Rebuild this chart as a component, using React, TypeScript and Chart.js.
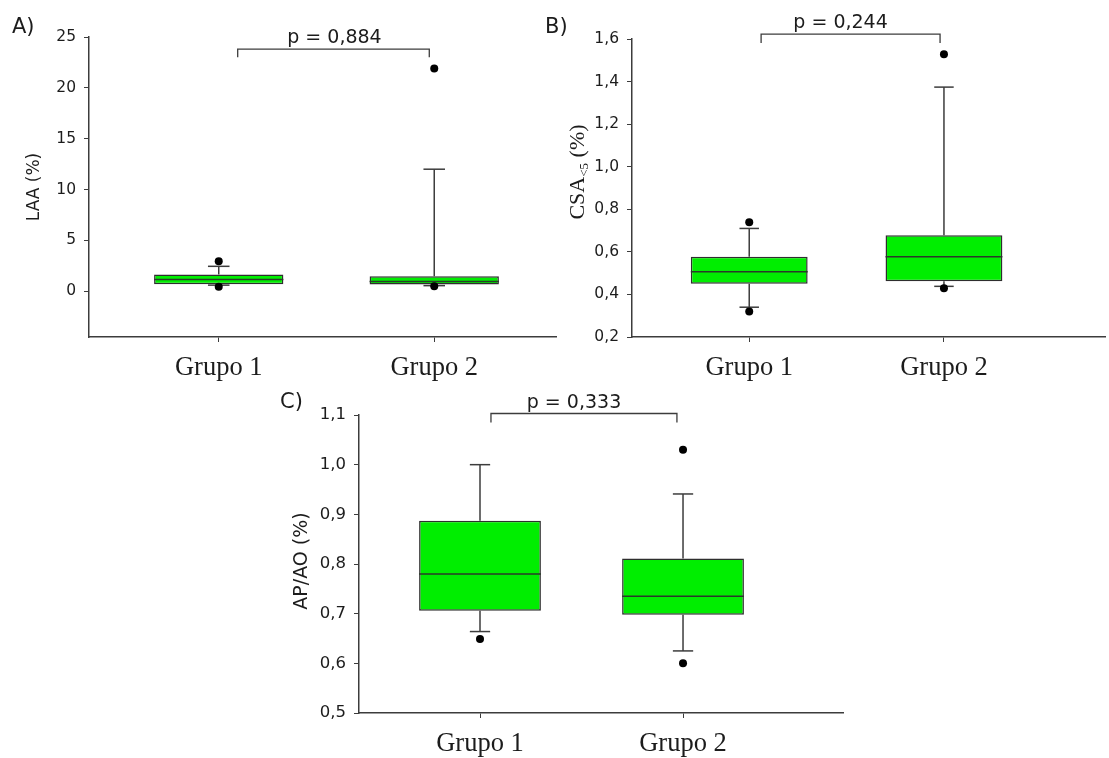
import React, { useEffect, useRef } from 'react';
import { Chart, registerables } from 'chart.js';
Chart.register(...registerables);

const groups = ['Grupo 1', 'Grupo 2'];

// Panel A – LAA (%)
const laaQ1 = [0.69, 0.66];
const laaMedian = [1.15, 0.95];
const laaQ3 = [1.65, 1.48];
const laaWhiskerLow = [0.6, 0.55];
const laaWhiskerHigh = [2.45, 12];
const laaOutliersG1 = [2.95, 0.45];
const laaOutliersG2 = [21.9, 0.5];
const laaTicks = [0, 5, 10, 15, 20, 25];
const laaP = 'p = 0,884';

// Panel B – CSA<5 (%)
const csaQ1 = [0.45, 0.462];
const csaMedian = [0.507, 0.577];
const csaQ3 = [0.577, 0.678];
const csaWhiskerLow = [0.34, 0.438];
const csaWhiskerHigh = [0.71, 1.374];
const csaOutliersG1 = [0.739, 0.32];
const csaOutliersG2 = [1.528, 0.429];
const csaTicks = [0.2, 0.4, 0.6, 0.8, 1.0, 1.2, 1.4, 1.6];
const csaP = 'p = 0,244';

// Panel C – AP/AO (%)
const apQ1 = [0.706, 0.698];
const apMedian = [0.78, 0.735];
const apQ3 = [0.887, 0.811];
const apWhiskerLow = [0.664, 0.625];
const apWhiskerHigh = [1.0, 0.941];
const apOutliersG1 = [0.649];
const apOutliersG2 = [1.03, 0.6];
const apTicks = [0.5, 0.6, 0.7, 0.8, 0.9, 1.0, 1.1];
const apP = 'p = 0,333';

const SANS = '"DejaVu Sans", sans-serif';
const SERIF = '"Liberation Serif", "DejaVu Serif", serif';
const TEXT = '#1c1c1c';
const LINE = '#3c3c3c';
const GREEN = '#00ee00';

type Panel = {
  left: number; top: number; w: number; h: number;
  padTop: number; padRight: number; yWidth: number; xHeight: number;
  xMin: number; xMax: number; yMin: number; yMax: number;
  yTicks: number[]; decimals: number; tickFont: number;
  q1: number[]; med: number[]; q3: number[]; lo: number[]; hi: number[];
  out1: number[]; out2: number[];
  bracket: { x1: number; x2: number; yTop: number; yTick: number; textX: number; text: string };
  label: { text: string; x: number; y: number };
  title: (ctx: CanvasRenderingContext2D) => void;
};

function drawRotated(ctx: CanvasRenderingContext2D, x: number, y: number, parts: { t: string; font: string; dy: number }[]) {
  ctx.save();
  ctx.translate(x, y);
  ctx.rotate(-Math.PI / 2);
  ctx.fillStyle = TEXT;
  ctx.textBaseline = 'alphabetic';
  ctx.textAlign = 'left';
  let total = 0;
  const widths = parts.map(p => { ctx.font = p.font; const w = ctx.measureText(p.t).width; total += w; return w; });
  let cx = -total / 2;
  parts.forEach((p, i) => { ctx.font = p.font; ctx.fillText(p.t, cx, p.dy); cx += widths[i]; });
  ctx.restore();
}

const panels: Panel[] = [
  {
    left: 0, top: 0, w: 560, h: 390, padTop: 37, padRight: 3, yWidth: 89, xHeight: 53,
    xMin: 0.398, xMax: 2.565, yMin: -4.5, yMax: 25, yTicks: laaTicks, decimals: 0, tickFont: 15.5,
    q1: laaQ1, med: laaMedian, q3: laaQ3, lo: laaWhiskerLow, hi: laaWhiskerHigh,
    out1: laaOutliersG1, out2: laaOutliersG2,
    bracket: { x1: 1.088, x2: 1.977, yTop: 23.8, yTick: 23.0, textX: 1.537, text: laaP },
    label: { text: 'A)', x: 12, y: 33 },
    title: ctx => drawRotated(ctx, 39, 187, [{ t: 'LAA (%)', font: `17px ${SANS}`, dy: 0 }]),
  },
  {
    left: 530, top: 0, w: 579, h: 390, padTop: 39, padRight: 1, yWidth: 102, xHeight: 53,
    xMin: 0.398, xMax: 2.827, yMin: 0.2, yMax: 1.6, yTicks: csaTicks, decimals: 1, tickFont: 15.5,
    q1: csaQ1, med: csaMedian, q3: csaQ3, lo: csaWhiskerLow, hi: csaWhiskerHigh,
    out1: csaOutliersG1, out2: csaOutliersG2,
    bracket: { x1: 1.061, x2: 1.98, yTop: 1.623, yTick: 1.581, textX: 1.469, text: csaP },
    label: { text: 'B)', x: 15, y: 33 },
    title: ctx => drawRotated(ctx, 54, 172, [
      { t: 'CSA', font: `22px ${SERIF}`, dy: 0 },
      { t: '<5', font: `13px ${SERIF}`, dy: 4 },
      { t: ' (%)', font: `22px ${SERIF}`, dy: 0 },
    ]),
  },
  {
    left: 270, top: 380, w: 580, h: 378, padTop: 35, padRight: 7, yWidth: 89, xHeight: 45,
    xMin: 0.404, xMax: 2.788, yMin: 0.5, yMax: 1.1, yTicks: apTicks, decimals: 1, tickFont: 16.5,
    q1: apQ1, med: apMedian, q3: apQ3, lo: apWhiskerLow, hi: apWhiskerHigh,
    out1: apOutliersG1, out2: apOutliersG2,
    bracket: { x1: 1.054, x2: 1.97, yTop: 1.103, yTick: 1.085, textX: 1.463, text: apP },
    label: { text: 'C)', x: 10, y: 28 },
    title: ctx => drawRotated(ctx, 37, 181, [{ t: 'AP/AO (%)', font: `19px ${SANS}`, dy: 0 }]),
  },
];

function makeChart(canvas: HTMLCanvasElement, p: Panel) {
  const boxPlugin = {
    id: 'boxExtras',
    beforeDatasetsDraw(chart: any) {
      const { ctx } = chart;
      const xs = chart.scales.x, ys = chart.scales.y;
      ctx.save();
      ctx.strokeStyle = LINE;
      ctx.lineWidth = 1.5;
      for (let i = 0; i < 2; i++) {
        const xv = i + 1;
        const x = xs.getPixelForValue(xv);
        const xl = xs.getPixelForValue(xv - 0.05), xr = xs.getPixelForValue(xv + 0.05);
        const segs: [number, number][] = [[p.q3[i], p.hi[i]], [p.q1[i], p.lo[i]]];
        segs.forEach(([a, b]) => {
          const ya = ys.getPixelForValue(a), yb = ys.getPixelForValue(b);
          ctx.beginPath(); ctx.moveTo(x, ya); ctx.lineTo(x, yb); ctx.stroke();
          ctx.beginPath(); ctx.moveTo(xl, yb); ctx.lineTo(xr, yb); ctx.stroke();
        });
      }
      ctx.restore();
    },
    afterDatasetDraw(chart: any, args: any) {
      if (args.meta.type !== 'bar') return;
      const { ctx } = chart;
      const xs = chart.scales.x, ys = chart.scales.y;
      ctx.save();
      ctx.strokeStyle = '#2a3a2a';
      ctx.lineWidth = 1.5;
      for (let i = 0; i < 2; i++) {
        const y = ys.getPixelForValue(p.med[i]);
        ctx.beginPath();
        ctx.moveTo(xs.getPixelForValue(i + 1 - 0.3), y);
        ctx.lineTo(xs.getPixelForValue(i + 1 + 0.3), y);
        ctx.stroke();
      }
      ctx.restore();
    },
    afterDraw(chart: any) {
      const { ctx } = chart;
      const xs = chart.scales.x, ys = chart.scales.y;
      const b = p.bracket;
      ctx.save();
      ctx.strokeStyle = LINE;
      ctx.lineWidth = 1.3;
      const x1 = xs.getPixelForValue(b.x1), x2 = xs.getPixelForValue(b.x2);
      const yt = ys.getPixelForValue(b.yTop), yk = ys.getPixelForValue(b.yTick);
      ctx.beginPath();
      ctx.moveTo(x1, yk); ctx.lineTo(x1, yt); ctx.lineTo(x2, yt); ctx.lineTo(x2, yk);
      ctx.stroke();
      ctx.fillStyle = TEXT;
      ctx.font = `19px ${SANS}`;
      ctx.textAlign = 'center';
      ctx.textBaseline = 'alphabetic';
      ctx.fillText(b.text, xs.getPixelForValue(b.textX), yt - 6);
      ctx.font = `21px ${SANS}`;
      ctx.textAlign = 'left';
      ctx.fillText(p.label.text, p.label.x, p.label.y);
      ctx.restore();
      p.title(ctx);
    },
  };

  const fmt = (v: number) => v.toFixed(p.decimals).replace('.', ',');

  return new Chart(canvas, {
    type: 'bar',
    data: {
      datasets: [
        {
          type: 'bar',
          order: 1,
          data: [
            { x: 1, y: [p.q1[0], p.q3[0]] },
            { x: 2, y: [p.q1[1], p.q3[1]] },
          ] as any,
          backgroundColor: GREEN,
          borderColor: '#2e2e2e',
          borderWidth: 1.5,
          borderSkipped: false,
          barPercentage: 0.6,
          categoryPercentage: 1,
        } as any,
        {
          type: 'scatter',
          order: 0,
          data: [...p.out1.map(v => ({ x: 1, y: v })), ...p.out2.map(v => ({ x: 2, y: v }))],
          pointRadius: 4,
          pointBackgroundColor: '#000',
          pointBorderWidth: 0,
          showLine: false,
        } as any,
      ],
    },
    options: {
      responsive: false,
      animation: false,
      devicePixelRatio: 1,
      layout: { padding: { top: p.padTop, right: p.padRight, left: 0, bottom: 0 } },
      plugins: { legend: { display: false }, tooltip: { enabled: false } },
      scales: {
        x: {
          type: 'linear',
          min: p.xMin,
          max: p.xMax,
          offset: false,
          afterBuildTicks: (s: any) => { s.ticks = [{ value: 1 }, { value: 2 }]; },
          afterFit: (s: any) => { s.height = p.xHeight; },
          grid: { drawOnChartArea: false, drawTicks: true, tickLength: 5, tickColor: LINE, tickWidth: 1, offset: false },
          border: { display: true, color: LINE, width: 1.5 },
          ticks: {
            padding: 10,
            color: TEXT,
            font: { family: SERIF, size: 26.5 },
            maxRotation: 0,
            callback: (_v: any, i: number) => groups[i],
          },
        },
        y: {
          type: 'linear',
          min: p.yMin,
          max: p.yMax,
          afterBuildTicks: (s: any) => { s.ticks = p.yTicks.map(v => ({ value: v })); },
          afterFit: (s: any) => { s.width = p.yWidth; },
          grid: { drawOnChartArea: false, drawTicks: true, tickLength: 5, tickColor: LINE, tickWidth: 1 },
          border: { display: true, color: LINE, width: 1.5 },
          ticks: {
            padding: 8,
            color: TEXT,
            font: { family: SANS, size: p.tickFont },
            callback: (v: any) => fmt(Number(v)),
          },
        },
      },
    } as any,
    plugins: [boxPlugin],
  });
}

function PanelChart({ p }: { p: Panel }) {
  const ref = useRef<HTMLCanvasElement>(null);
  useEffect(() => {
    if (!ref.current) return;
    const c = makeChart(ref.current, p);
    return () => c.destroy();
  }, [p]);
  return (
    <canvas
      ref={ref}
      width={p.w}
      height={p.h}
      style={{ position: 'absolute', left: p.left, top: p.top, width: p.w, height: p.h }}
    />
  );
}

export default function App() {
  return (
    <div style={{ position: 'absolute', left: 0, top: 0, width: 1109, height: 758, background: '#fff', overflow: 'hidden' }}>
      {panels.map((p, i) => <PanelChart key={i} p={p} />)}
    </div>
  );
}
